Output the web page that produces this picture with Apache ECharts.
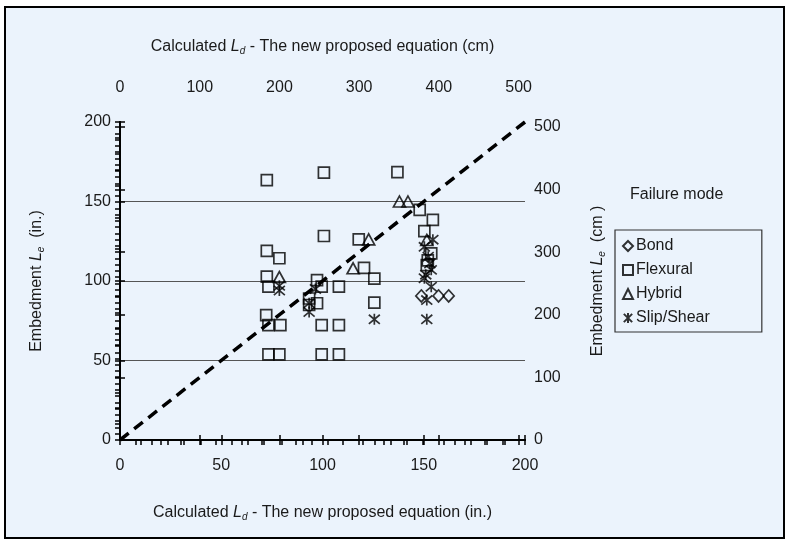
<!DOCTYPE html>
<html><head><meta charset="utf-8">
<script src="https://cdn.jsdelivr.net/npm/echarts@6/dist/echarts.min.js"></script>
<style>html,body{margin:0;padding:0;background:#fff}#c{width:789px;height:544px}</style>
</head><body><div id="c"></div>
<script>
// Data (inches): [Calculated Ld, Embedment Le]
const bond = [[148.8,90.6],[157.3,90.6],[162.3,90.6]];
const flexural = [[72.5,163.5],[100.7,168.1],[137,168.5],[148,144.7],[154.5,138.4],[150.3,131.4],[100.7,128.3],[117.9,126.2],[72.5,119],[78.7,114.3],[120.5,108.2],[72.5,102.7],[125.6,101.5],[97.3,100.6],[73.3,96.4],[99.6,96.4],[108.1,96.4],[93.4,89],[97.3,86],[93.4,84.9],[125.6,86.4],[72.2,78.6],[73.3,72.3],[79.2,72.3],[99.6,72.3],[108.1,72.3],[73.3,53.9],[78.7,53.9],[99.6,53.9],[108.1,53.9],[153.7,117.4],[152,113],[151.5,110]];
const hybrid = [[78.7,102.5],[115.1,108],[122.8,126.2],[138,150],[142.2,150],[151.5,125.8]];
const slipShear = [[78.7,97],[78.7,94],[93.4,86],[93.4,80.5],[96.5,95],[125.6,75.9],[154.5,126],[150.3,121.5],[152.2,115.3],[153.7,107],[150.3,101.7],[153.7,96.4],[151.5,88],[151.5,75.9],[153,111],[151,104]];
const equalityLine = [[0,0],[200,200]];
const inchTicks = [0,50,100,150,200];
const cmTicks = [0,100,200,300,400,500];

const FONT = "'Liberation Sans', Arial, sans-serif";
const TXT = '#1a1a1a';
const FS = 16;
const starPath = 'path://M0,0L10,10M10,0L0,10M5,-1L5,11';
const hollow = {color:'rgba(0,0,0,0)', borderColor:'#000', borderWidth:1.7};
const rich = {
  i:{fontStyle:'italic', fontSize:FS, color:TXT, fontFamily:FONT},
  s:{fontStyle:'italic', fontSize:10, color:TXT, fontFamily:FONT, padding:[8,0,0,0]}
};
const nameStyle = {fontSize:FS, color:TXT, fontFamily:FONT, rich};
const lbl = {fontSize:FS, color:TXT, fontFamily:FONT};
const axLine = {show:true, lineStyle:{color:'#000', width:2}};
const tk = (inside)=>({show:true, inside, length:5, lineStyle:{color:'#000', width:1.5}});

function mainAxis(extra){
  return Object.assign({
    type:'value', axisLine:axLine, splitLine:{show:false},
    minorTick:{show:true, splitNumber:5, length:5, lineStyle:{color:'#000', width:1.5}},
    axisLabel:Object.assign({}, lbl)
  }, extra);
}
function dupAxis(extra){
  return Object.assign({
    type:'value', axisLine:{show:false}, splitLine:{show:false},
    axisLabel:{show:false}, minorTick:{show:false}
  }, extra);
}

const chart = echarts.init(document.getElementById('c'));
chart.setOption({
  animation:false,
  backgroundColor:'#fff',
  graphic:[
    {type:'rect', z:-10, shape:{x:5, y:7, width:779, height:531}, style:{fill:'#ebf3fc', stroke:'#000', lineWidth:2}},
    {type:'text', left:630, top:187, style:{text:'Failure mode', font:FS+"px "+FONT, fill:TXT}}
  ],
  grid:{left:120, top:122, right:264, bottom:104, containLabel:false},
  xAxis:[
    mainAxis({position:'bottom', min:0, max:200, interval:50, axisTick:tk(false),
      axisLabel:Object.assign({margin:18, formatter:v=>inchTicks.includes(v)?String(v):''}, lbl),
      name:'Calculated {i|L}{s|d} - The new proposed equation (in.)', nameLocation:'middle', nameGap:64, nameTextStyle:nameStyle}),
    mainAxis({position:'top', min:0, max:508, interval:100, axisTick:tk(true),
      axisLabel:Object.assign({margin:26, showMaxLabel:false, formatter:v=>cmTicks.includes(v)?String(v):''}, lbl),
      name:'Calculated {i|L}{s|d} - The new proposed equation (cm)', nameLocation:'middle', nameGap:66, nameTextStyle:nameStyle}),
    dupAxis({position:'bottom', min:0, max:200, interval:50, axisTick:tk(true)}),
    dupAxis({position:'top', min:0, max:508, interval:100, axisTick:tk(false)})
  ],
  yAxis:[
    mainAxis({position:'left', min:0, max:200, interval:50, axisTick:tk(false),
      splitLine:{show:true, showMinLine:false, showMaxLine:false, lineStyle:{color:'#555', width:1}},
      axisLabel:Object.assign({margin:9, formatter:v=>inchTicks.includes(v)?String(v):''}, lbl),
      name:'Embedment {i|L}{s|e}  (in.)', nameLocation:'middle', nameGap:74, nameTextStyle:nameStyle}),
    mainAxis({position:'right', min:0, max:508, interval:100, axisTick:tk(true),
      minorTick:{show:true, splitNumber:10, length:5, lineStyle:{color:'#000', width:1.5}},
      axisLabel:Object.assign({margin:9, showMaxLabel:true, formatter:v=>cmTicks.includes(v)?String(v):''}, lbl),
      name:'Embedment {i|L}{s|e}  (cm )', nameLocation:'middle', nameGap:64, nameTextStyle:nameStyle}),
    dupAxis({position:'left', min:0, max:200, interval:50, axisTick:tk(true)}),
    dupAxis({position:'right', min:0, max:508, interval:100, axisTick:tk(false)})
  ],
  legend:{
    orient:'vertical', left:615, top:230, itemGap:8, itemWidth:10, itemHeight:10,
    padding:[8,52,6,7], borderColor:'#333', borderWidth:1.2, backgroundColor:'rgba(0,0,0,0)',
    textStyle:{fontSize:FS, color:TXT, fontFamily:FONT, padding:[0,0,0,-2]},
    data:['Bond','Flexural','Hybrid','Slip/Shear']
  },
  series:[
    {type:'line', data:equalityLine, symbol:'none', silent:true, z:1,
      lineStyle:{color:'#000', width:3.5, type:[11,7]}},
    {name:'Bond', type:'scatter', data:bond, symbol:'diamond', symbolSize:[11,12], itemStyle:hollow, z:3},
    {name:'Flexural', type:'scatter', data:flexural, symbol:'rect', symbolSize:11, itemStyle:hollow, z:3},
    {name:'Hybrid', type:'scatter', data:hybrid, symbol:'triangle', symbolSize:[12,11], itemStyle:hollow, z:3},
    {name:'Slip/Shear', type:'scatter', data:slipShear, symbol:starPath, symbolSize:11, itemStyle:hollow, z:3}
  ]
});
</script></body></html>
